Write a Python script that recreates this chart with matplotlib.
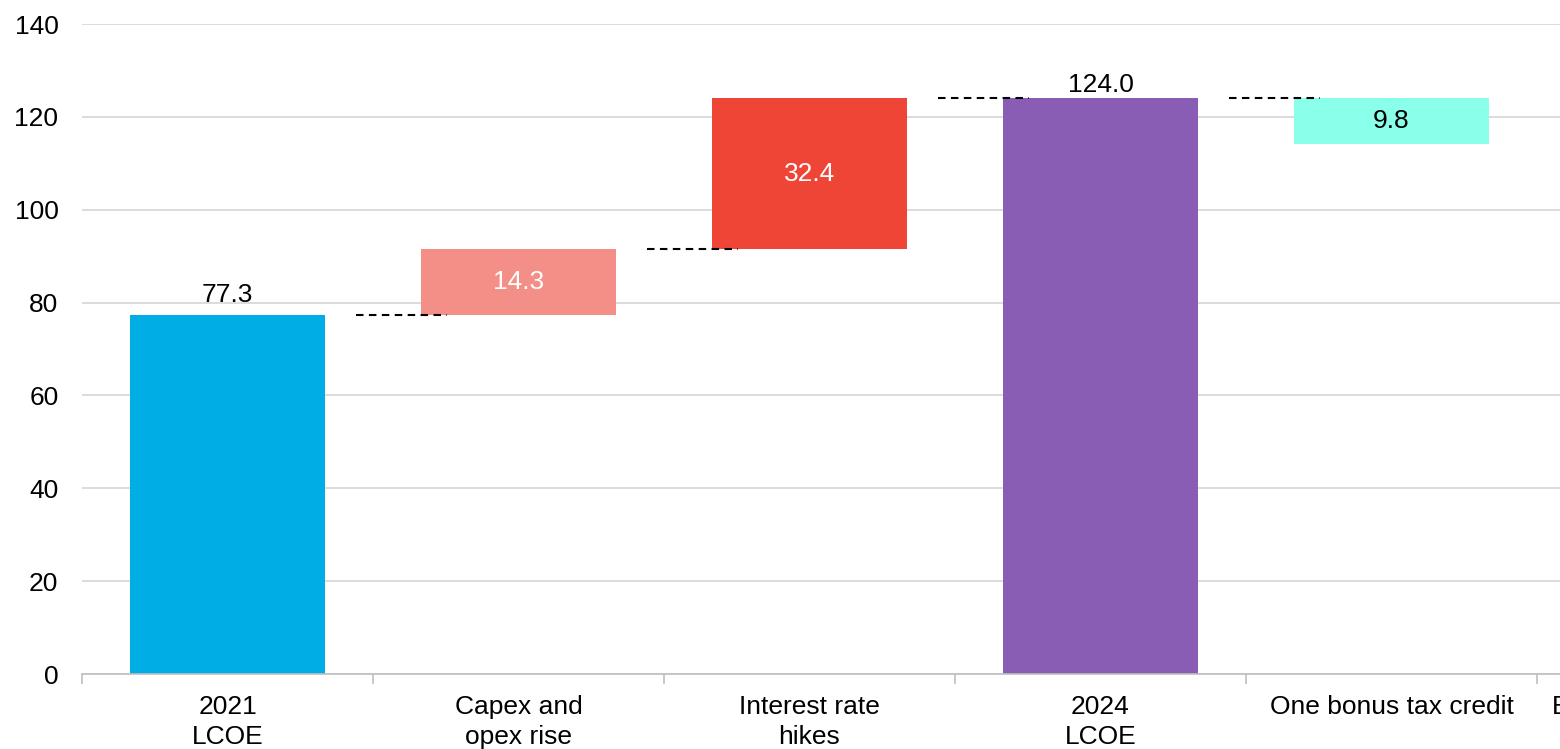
import matplotlib
matplotlib.use("Agg")
import matplotlib.pyplot as plt
from matplotlib.ticker import FixedLocator, NullFormatter

plt.rcParams['font.family'] = ['Liberation Sans', 'DejaVu Sans']

# Waterfall steps for the levelized cost of energy
categories = ["2021\nLCOE", "Capex and\nopex rise", "Interest rate\nhikes",
              "2024\nLCOE", "One bonus tax credit", "Both bonus tax credits"]
step_values = [77.3, 14.3, 32.4, 124.0, -9.8]
step_kinds = ["total", "delta", "delta", "total", "delta"]
bar_colors = ["#00ADE4", "#F48F87", "#EF4536", "#8A5DB4", "#8AFFEA"]
label_colors = ["black", "white", "white", "black", "black"]
y_ticks = [0, 20, 40, 60, 80, 100, 120, 140]

FS = 19
# gap (in points) between a total bar's top and its value label
total_label_gap = {0: 6, 3: 1}

fig = plt.figure(figsize=(15.6, 7.49), dpi=100)
ax = fig.add_axes([82 / 1560, 1 - 674 / 749, 1746 / 1560, 650 / 749])

level = 0.0
bar_w = 0.667
tops = []
for i, (v, kind, c, lc) in enumerate(zip(step_values, step_kinds, bar_colors, label_colors)):
    if kind == "total":
        level = v
        ax.bar(i, v, bottom=0.0, width=bar_w, color=c, zorder=2)
        ax.annotate(f"{v:.1f}", (i, v), xytext=(0, total_label_gap.get(i, 4)),
                    textcoords="offset points", ha="center", va="bottom",
                    fontsize=FS, color=lc, zorder=4)
    else:
        start = level
        level = level + v
        bottom = min(start, level)
        height = abs(v)
        ax.bar(i, height, bottom=bottom, width=bar_w, color=c, zorder=2)
        ax.text(i, bottom + height / 2, f"{abs(v):.1f}", ha="center", va="center",
                fontsize=FS, color=lc, zorder=4)
    tops.append(level)

# Dashed connectors between consecutive bars
for i in range(len(step_values) - 1):
    ax.plot([i + 0.44, i + 0.755], [tops[i], tops[i]], ls=(0, (3.6, 2.6)),
            color="black", lw=1.5, zorder=3)

ax.set_xlim(-0.5, len(categories) - 0.5)
ax.set_ylim(0, 140)
ax.set_yticks(y_ticks)
ax.tick_params(axis="y", length=0, pad=17, labelsize=FS)
ax.yaxis.grid(True, color="#D9D9D9", lw=1.3, zorder=0)
ax.set_axisbelow(True)

ax.set_xticks(range(len(categories)))
ax.set_xticklabels(categories, fontsize=FS, linespacing=1.33)
ax.tick_params(axis="x", which="major", length=0, pad=15)
ax.xaxis.set_minor_locator(FixedLocator([i - 0.5 for i in range(len(categories) + 1)]))
ax.xaxis.set_minor_formatter(NullFormatter())
ax.tick_params(axis="x", which="minor", length=7, color="#BFBFBF", width=1.2, direction="out")

for s in ["left", "right", "top"]:
    ax.spines[s].set_visible(False)
ax.spines["bottom"].set_color("#BFBFBF")
ax.spines["bottom"].set_linewidth(1.2)

fig.savefig("out.png", dpi=100)
